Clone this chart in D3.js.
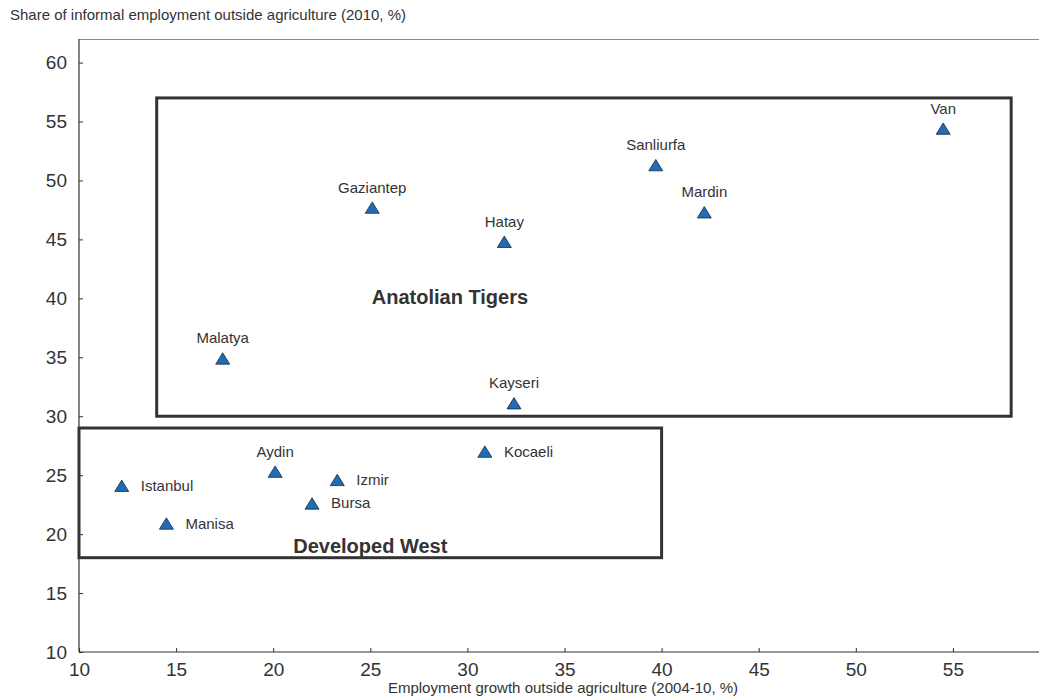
<!DOCTYPE html>
<html>
<head>
<meta charset="utf-8">
<script src="https://cdn.jsdelivr.net/npm/d3@7"></script>
<style>
  body { margin: 0; background: #fff; }
  svg text { font-family: "Liberation Sans", Arial, Helvetica, sans-serif; fill: #333; }
</style>
</head>
<body>
<div id="chart"></div>
<script>
// provinces: employment growth (x) vs informal share (y)
var names   = ['Van', 'Sanliurfa', 'Mardin', 'Gaziantep', 'Hatay', 'Malatya', 'Kayseri',
               'Kocaeli', 'Istanbul', 'Aydin', 'Izmir', 'Bursa', 'Manisa'];
var growth  = [54.5, 39.7, 42.2, 25.1, 31.9, 17.4, 32.4, 30.9, 12.2, 20.1, 23.3, 22.0, 14.5];
var informal= [54.4, 51.3, 47.3, 47.7, 44.8, 34.9, 31.1, 27.0, 24.1, 25.3, 24.6, 22.6, 20.9];
var labelSide = ['top', 'top', 'top', 'top', 'top', 'top', 'top',
                 'right', 'right', 'top', 'right', 'right', 'right'];

// groups drawn as boxes: [x0, x1, y0, y1]
var groupNames = ['Anatolian Tigers', 'Developed West'];
var groupBoxes = [[14, 58, 30, 57], [10, 40, 18, 29]];

var xTicks = [10, 15, 20, 25, 30, 35, 40, 45, 50, 55];
var yTicks = [10, 15, 20, 25, 30, 35, 40, 45, 50, 55, 60];

var W = 1039, H = 697,
    padLeft = 79, padTop = 39, axisY = 652;

var x = d3.scaleLinear().domain([10, 60]).range([padLeft, padLeft + 50 * 19.42]);
var y = d3.scaleLinear().domain([10, 62]).range([axisY, padTop]);

var svg = d3.select('#chart').append('svg')
  .attr('width', W).attr('height', H);

// frame top line
svg.append('line')
  .attr('x1', padLeft).attr('x2', W)
  .attr('y1', padTop + 0.5).attr('y2', padTop + 0.5)
  .attr('stroke', '#888').attr('stroke-width', 1);

// axes with inward ticks
var xAxis = svg.append('g')
  .attr('transform', 'translate(0,' + axisY + ')')
  .call(d3.axisBottom(x).tickValues(xTicks).tickSizeInner(-4).tickSizeOuter(0).tickPadding(10));
var yAxis = svg.append('g')
  .attr('transform', 'translate(' + padLeft + ',0)')
  .call(d3.axisLeft(y).tickValues(yTicks).tickSizeInner(-4).tickSizeOuter(0).tickPadding(12));

[xAxis, yAxis].forEach(function (a) {
  a.select('.domain').attr('stroke', '#333').attr('stroke-width', 1.2);
  a.selectAll('.tick line').attr('stroke', '#333');
  a.selectAll('.tick text').attr('font-size', 19).attr('fill', '#333')
    .style('font-family', '"Liberation Sans", Arial, sans-serif');
});
xAxis.selectAll('.tick text').attr('y', 6).attr('dy', '0.95em');
xAxis.select('.domain').attr('d', 'M' + padLeft + ',0H' + W);
yAxis.select('.domain').attr('d', 'M0,' + padTop + 'V' + axisY);

// axis titles
svg.append('text')
  .attr('x', 10).attr('y', 20)
  .attr('font-size', 15)
  .text('Share of informal employment outside agriculture (2010, %)');
svg.append('text')
  .attr('x', 563).attr('y', 693)
  .attr('text-anchor', 'middle')
  .attr('font-size', 15)
  .text('Employment growth outside agriculture (2004-10, %)');

// group boxes
svg.selectAll('rect.group').data(groupBoxes)
  .enter().append('rect')
  .attr('class', 'group')
  .attr('x', function (d) { return x(d[0]); })
  .attr('y', function (d) { return y(d[3]); })
  .attr('width', function (d) { return x(d[1]) - x(d[0]); })
  .attr('height', function (d) { return y(d[2]) - y(d[3]); })
  .attr('fill', 'none')
  .attr('stroke', '#333')
  .attr('stroke-width', 3);

// group titles
var groupLabelPos = [[29.1, 39.5], [25.0, 18.4]];
svg.selectAll('text.group').data(groupNames)
  .enter().append('text')
  .attr('class', 'group')
  .attr('x', function (d, i) { return x(groupLabelPos[i][0]); })
  .attr('y', function (d, i) { return y(groupLabelPos[i][1]); })
  .attr('text-anchor', 'middle')
  .attr('font-size', 20)
  .attr('font-weight', 'bold')
  .text(function (d) { return d; });

// points
var data = names.map(function (n, i) {
  return { name: n, gx: growth[i], iy: informal[i], side: labelSide[i] };
});

var pts = svg.selectAll('g.pt').data(data)
  .enter().append('g')
  .attr('class', 'pt')
  .attr('transform', function (d) {
    return 'translate(' + x(d.gx) + ',' + y(d.iy) + ')';
  });

pts.append('path')
  .attr('d', 'M0,-5.7L7,5.7L-7,5.7Z')
  .attr('fill', '#1f6db4')
  .attr('stroke', '#1a2a3a')
  .attr('stroke-width', 0.8);

pts.append('text')
  .attr('font-size', 15)
  .attr('x', function (d) { return d.side === 'right' ? 19 : 0; })
  .attr('y', function (d) { return d.side === 'right' ? 5 : -15; })
  .attr('text-anchor', function (d) { return d.side === 'right' ? 'start' : 'middle'; })
  .text(function (d) { return d.name; });
</script>
</body>
</html>
